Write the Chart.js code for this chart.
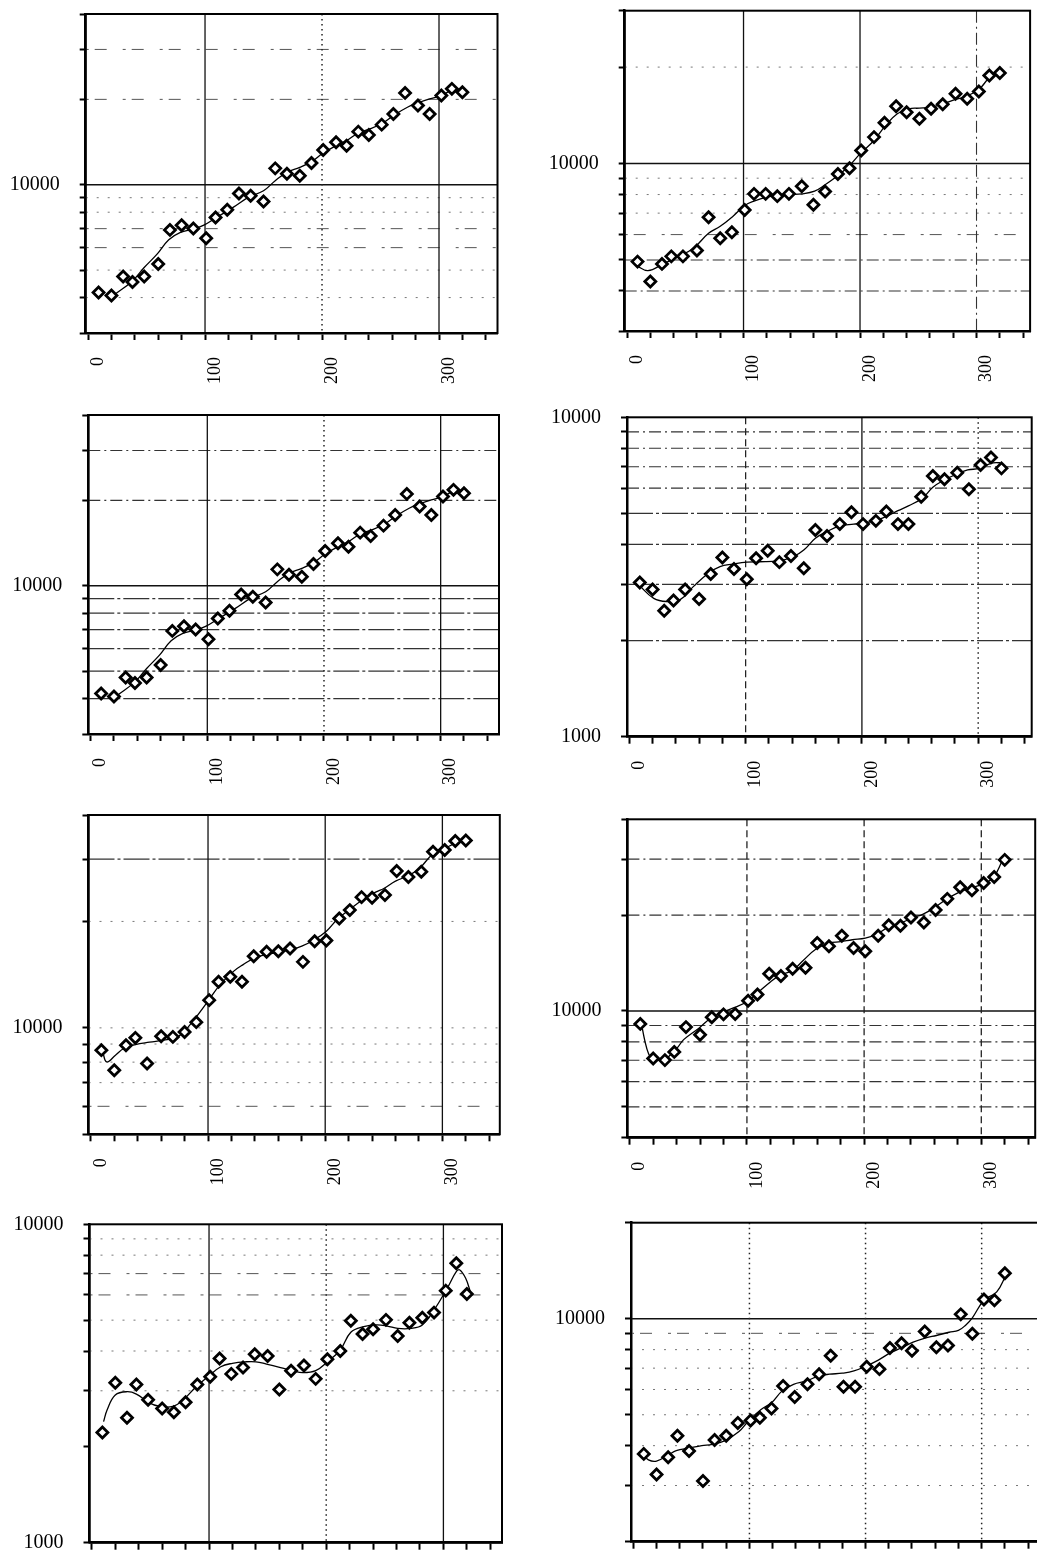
<!DOCTYPE html>
<html><head><meta charset="utf-8">
<script src="https://cdn.jsdelivr.net/npm/chart.js@4.4.1/dist/chart.umd.min.js"></script>
<style>
html,body{margin:0;padding:0;background:#fff;overflow:hidden;width:1037px;height:1555px;position:relative;}
canvas{position:absolute;}
</style></head><body>
<canvas id="cA"></canvas><canvas id="cB"></canvas><canvas id="cC"></canvas><canvas id="cD"></canvas>
<canvas id="cE"></canvas><canvas id="cF"></canvas><canvas id="cG"></canvas><canvas id="cH"></canvas>
<script>
// ---------- DATA ----------
const days = [9, 20, 30, 38, 48, 60, 70, 80, 90, 101, 109, 119, 129, 139, 150, 160, 170, 181, 191, 201, 212, 221, 231, 240, 251, 261, 271, 282, 292, 302, 311, 320];

// panel A (top left; panel C, second row left, shows the same series)
const seriesA = [4170, 4070, 4750, 4540, 4750, 5250, 6930, 7200, 7010, 6480, 7670, 8160, 9320, 9140, 8730, 11420, 10940, 10760, 11930, 13260, 14110, 13730, 15390, 14980, 16290, 17770, 21080, 19020, 17770, 20630, 21780, 21200];
const fitDaysA = [23, 38, 48, 59, 69, 79, 90, 99, 110, 124, 137, 150, 160, 170, 181, 191, 201, 212, 221, 231, 241, 252, 261, 273, 282, 292, 302, 311];
const fitA = [4110, 4580, 5105, 5690, 6395, 6790, 6975, 7200, 7670, 8320, 9020, 9520, 10330, 11060, 11510, 12060, 12940, 13730, 14300, 15220, 15730, 16510, 17530, 18760, 19440, 20080, 20630, 21670];

// panel B (top right)
const seriesB = [4940, 4280, 4860, 5130, 5130, 5350, 6800, 5840, 6100, 7160, 8040, 8040, 7910, 8040, 8490, 7440, 8180, 9280, 9670, 10980, 12090, 13400, 15100, 14460, 13790, 14820, 15320, 16510, 15920, 16790, 18840, 19160];
const fitDaysB = [8, 18, 31, 43, 57, 70, 80, 91, 101, 109, 120, 129, 140, 150, 161, 170, 181, 191, 200, 212, 222, 232, 242, 251, 261, 271, 282, 291, 302, 310, 315];
const fitB = [4800, 4630, 4860, 5100, 5440, 6060, 6370, 6850, 7390, 7630, 7850, 7940, 8000, 8040, 8200, 8580, 9170, 9860, 10720, 11800, 13150, 14300, 14820, 14890, 15000, 15360, 15850, 16200, 17030, 18390, 19060];

// panel D (second row right)
const seriesD = [3040, 2890, 2480, 2670, 2890, 2700, 3230, 3640, 3350, 3110, 3620, 3820, 3520, 3680, 3370, 4440, 4250, 4630, 5040, 4630, 4740, 5070, 4630, 4630, 5640, 6550, 6400, 6710, 5950, 7090, 7490, 6920];
const fitDaysD = [8, 21, 32, 44, 55, 68, 78, 89, 101, 112, 128, 141, 150, 160, 170, 181, 193, 200, 212, 222, 231, 240, 252, 261, 271, 282, 291, 301, 311, 319];
const fitD = [2990, 2710, 2650, 2690, 2950, 3250, 3410, 3470, 3520, 3530, 3550, 3660, 3840, 4180, 4390, 4570, 4630, 4660, 4750, 4910, 5100, 5280, 5580, 6040, 6370, 6650, 6840, 6920, 7180, 7210];

// panel E (third row left)
const seriesE = [8650, 7590, 8930, 9370, 7930, 9470, 9430, 9740, 10380, 11980, 13500, 13940, 13500, 15950, 16410, 16480, 16770, 15370, 17590, 17670, 20390, 21530, 23430, 23330, 23740, 27760, 26700, 27640, 31480, 31840, 33760, 33890];
const fitDaysE = [10, 13.5, 21, 28, 38, 50, 62, 72, 78, 89, 100, 110, 122, 130, 140, 150, 160, 171, 180, 190, 201, 211, 221, 231, 243, 250, 260, 272, 281, 291, 302, 314, 321];
const fitE = [8590, 8010, 8370, 8740, 8970, 9110, 9230, 9370, 9640, 10630, 11900, 13210, 14470, 15100, 15780, 16130, 16370, 16660, 17030, 17700, 18770, 20390, 21620, 22930, 24210, 24790, 26000, 27040, 28370, 30810, 32180, 33610, 34120];

// panel F (third row right)
const seriesF = [9110, 7090, 7010, 7440, 8900, 8420, 9560, 9760, 9790, 10770, 11270, 13100, 12880, 13570, 13670, 16350, 15970, 17230, 15780, 15400, 17230, 18590, 18510, 19650, 18960, 20750, 22500, 24460, 23950, 25240, 26350, 29830];
const fitDaysF = [10, 13, 16, 19, 29, 40, 46, 59, 69, 79, 89, 100, 110, 120, 128, 139, 148, 159, 170, 180, 190, 201, 211, 221, 232, 242, 250, 260, 270, 280, 291, 300, 310, 318];
const fitF = [9110, 8030, 7350, 7090, 7040, 7620, 8130, 8830, 9490, 9910, 10240, 10690, 11480, 12340, 12940, 13410, 14410, 15660, 16350, 16510, 16740, 16940, 17440, 18370, 18960, 19650, 20120, 21110, 22400, 23500, 24350, 24940, 26160, 29690];

// panel G (bottom left)
const seriesG = [2220, 3180, 2470, 3140, 2810, 2640, 2570, 2760, 3140, 3320, 3790, 3390, 3550, 3910, 3860, 3030, 3470, 3600, 3270, 3770, 4000, 4980, 4520, 4680, 5010, 4460, 4910, 5090, 5280, 6190, 7540, 6040];
const fitDaysG = [10, 13, 20, 30, 38, 49, 58, 69, 78, 89, 99, 110, 120, 131, 140, 149, 161, 171, 180, 191, 201, 212, 221, 232, 243, 252, 261, 272, 282, 292, 304, 311, 314, 319, 323];
const fitG = [2400, 2610, 2910, 2980, 2930, 2750, 2680, 2680, 2810, 3090, 3320, 3570, 3660, 3700, 3700, 3640, 3550, 3470, 3420, 3470, 3700, 4030, 4580, 4770, 4830, 4790, 4710, 4710, 4830, 5380, 6370, 7100, 7190, 6770, 6140];

// panel H (bottom right)
const seriesH = [3770, 3250, 3680, 4300, 3850, 3100, 4170, 4300, 4710, 4800, 4890, 5230, 6150, 5680, 6230, 6700, 7660, 6120, 6120, 7070, 6950, 8100, 8380, 7940, 9120, 8140, 8240, 10320, 8970, 11490, 11430, 13880];
const fitDaysH = [9, 13, 20, 30, 37, 48, 59, 68, 79, 91, 99, 110, 119, 128, 138, 149, 160, 169, 180, 190, 201, 211, 222, 232, 241, 252, 261, 272, 280, 286, 292, 302, 313, 321];
const fitH = [3740, 3610, 3580, 3740, 3860, 3930, 4000, 4040, 4150, 4430, 4770, 5190, 5450, 5930, 6230, 6380, 6620, 6700, 6750, 6860, 7120, 7420, 7840, 8140, 8440, 8710, 8860, 9070, 9190, 9530, 10070, 11430, 12140, 13710];

// tick values / labels
const xTickValues = [0, 20, 40, 60, 80, 100, 120, 140, 160, 180, 200, 220, 240, 260, 280, 300, 320, 340];
const xTickLabels = [0, 100, 200, 300];
const yTicks3k40k = [3000, 4000, 5000, 6000, 7000, 8000, 9000, 10000, 20000, 30000, 40000];
const yTicks3k30k = [3000, 4000, 5000, 6000, 7000, 8000, 9000, 10000, 20000, 30000];
const yTicks1k10k = [1000, 2000, 3000, 4000, 5000, 6000, 7000, 8000, 9000, 10000];
const yTicks5k40k = [5000, 6000, 7000, 8000, 9000, 10000, 20000, 30000, 40000];
const yTicks4k40k = [4000, 5000, 6000, 7000, 8000, 9000, 10000, 20000, 30000, 40000];
const yTicks2k20k = [2000, 3000, 4000, 5000, 6000, 7000, 8000, 9000, 10000, 20000];

// ---------- STYLES / LAYOUT ----------
const LINE_STYLES = {
  solid:   {dash: [], color: '#111', width: 1.3},
  dot:     {dash: [1.5, 3.5], color: '#222', width: 1.5},
  dash:    {dash: [7, 4], color: '#222', width: 1.3},
  dashdot: {dash: [12, 4, 2, 4], color: '#333', width: 1.1},
  dense:   {dash: [26, 3, 3, 3], color: '#333', width: 1.2},
  sparse:  {dash: [3, 6, 12, 16], color: '#555', width: 1},
  faint:   {dash: [2, 9], color: '#777', width: 1}
};

const panels = [
  {id: 'cA', cx: 0, cy: 0, w: 520, h: 400, left: 85.7, top: 14, right: 497.5, bottom: 333, xMax: 350,
   yMin: 3000, yMax: 40000, yTicks: yTicks3k40k, yLabels: [10000], showX: true,
   obs: seriesA, fx: fitDaysA, fy: fitA,
   hg: [[30000,'sparse'],[20000,'sparse'],[10000,'solid'],[9000,'faint'],[8000,'faint'],[7000,'sparse'],[6000,'sparse'],[5000,'faint'],[4000,'faint']],
   vg: [[100,'solid'],[200,'dot'],[300,'solid']]},
  {id: 'cB', cx: 520, cy: 0, w: 540, h: 400, left: 104.7, top: 10.7, right: 510.1, bottom: 331, xMax: 346,
   yMin: 3000, yMax: 30000, yTicks: yTicks3k30k, yLabels: [10000], showX: true,
   obs: seriesB, fx: fitDaysB, fy: fitB,
   hg: [[20000,'faint'],[10000,'solid'],[9000,'faint'],[8000,'faint'],[7000,'faint'],[6000,'sparse'],[5000,'dashdot'],[4000,'dashdot']],
   vg: [[100,'solid'],[200,'solid'],[300,'dashdot']]},
  {id: 'cC', cx: 0, cy: 400, w: 520, h: 400, left: 88.3, top: 15, right: 499, bottom: 334, xMax: 350,
   yMin: 3000, yMax: 40000, yTicks: yTicks3k40k, yLabels: [10000], showX: true,
   obs: seriesA, fx: fitDaysA, fy: fitA,
   hg: [[30000,'dashdot'],[20000,'dashdot'],[10000,'solid'],[9000,'dense'],[8000,'dense'],[7000,'dense'],[6000,'dense'],[5000,'dense'],[4000,'dense']],
   vg: [[100,'solid'],[200,'dot'],[300,'solid']]},
  {id: 'cD', cx: 520, cy: 400, w: 540, h: 400, left: 107, top: 17.3, right: 511.7, bottom: 336.7, xMax: 346,
   yMin: 1000, yMax: 10000, yTicks: yTicks1k10k, yLabels: [1000, 10000], showX: true,
   obs: seriesD, fx: fitDaysD, fy: fitD,
   hg: [[9000,'dashdot'],[8000,'dashdot'],[7000,'dashdot'],[6000,'dashdot'],[5000,'dense'],[4000,'dense'],[3000,'dense'],[2000,'dense']],
   vg: [[100,'dash'],[200,'solid'],[300,'dot']]},
  {id: 'cE', cx: 0, cy: 800, w: 520, h: 400, left: 88.5, top: 15, right: 499.8, bottom: 334.3, xMax: 349,
   yMin: 5000, yMax: 40000, yTicks: yTicks5k40k, yLabels: [10000], showX: true,
   obs: seriesE, fx: fitDaysE, fy: fitE,
   hg: [[30000,'dense'],[20000,'faint'],[10000,'faint'],[9000,'faint'],[8000,'faint'],[7000,'faint'],[6000,'sparse']],
   vg: [[100,'solid'],[200,'solid'],[300,'solid']]},
  {id: 'cF', cx: 520, cy: 800, w: 540, h: 400, left: 107.4, top: 19.3, right: 515.2, bottom: 337.7, xMax: 346,
   yMin: 4000, yMax: 40000, yTicks: yTicks4k40k, yLabels: [10000], showX: true,
   obs: seriesF, fx: fitDaysF, fy: fitF,
   hg: [[30000,'dashdot'],[20000,'dashdot'],[10000,'solid'],[9000,'dashdot'],[8000,'dashdot'],[7000,'dashdot'],[6000,'dashdot'],[5000,'dashdot']],
   vg: [[100,'dash'],[200,'dash'],[300,'dash']]},
  {id: 'cG', cx: 0, cy: 1200, w: 520, h: 355, left: 89.5, top: 24.3, right: 502, bottom: 342.7, xMax: 350,
   yMin: 1000, yMax: 10000, yTicks: yTicks1k10k, yLabels: [1000, 10000], showX: false,
   obs: seriesG, fx: fitDaysG, fy: fitG,
   hg: [[9000,'faint'],[8000,'faint'],[7000,'sparse'],[6000,'sparse'],[5000,'faint'],[4000,'faint'],[3000,'faint']],
   vg: [[100,'solid'],[200,'dot'],[300,'solid']]},
  {id: 'cH', cx: 520, cy: 1200, w: 540, h: 355, left: 111, top: 22.7, right: 519.7, bottom: 341.7, xMax: 350,
   yMin: 2000, yMax: 20000, yTicks: yTicks2k20k, yLabels: [10000], showX: false,
   obs: seriesH, fx: fitDaysH, fy: fitH,
   hg: [[10000,'solid'],[9000,'sparse'],[8000,'faint'],[7000,'faint'],[6000,'faint'],[5000,'faint'],[4000,'faint'],[3000,'faint']],
   vg: [[100,'dot'],[200,'dot'],[300,'dot']]}
];

function makeGridPlugin(p) {
  return {
    id: 'paperGrid',
    beforeDatasetsDraw(chart) {
      const {ctx, chartArea: a, scales} = chart;
      ctx.save();
      ctx.beginPath();
      ctx.rect(a.left, a.top, a.right - a.left, a.bottom - a.top);
      ctx.clip();
      const stroke = (x1, y1, x2, y2, s) => {
        const st = LINE_STYLES[s];
        ctx.beginPath();
        ctx.setLineDash(st.dash);
        ctx.strokeStyle = st.color;
        ctx.lineWidth = st.width;
        ctx.moveTo(x1, y1); ctx.lineTo(x2, y2);
        ctx.stroke();
      };
      p.hg.forEach(([v, s]) => { const py = scales.y.getPixelForValue(v); stroke(a.left, py, a.right, py, s); });
      p.vg.forEach(([v, s]) => { const px = scales.x.getPixelForValue(v); stroke(px, a.top, px, a.bottom, s); });
      ctx.restore();
    },
    afterDraw(chart) {
      const {ctx, chartArea: a} = chart;
      ctx.save();
      ctx.setLineDash([]);
      ctx.strokeStyle = '#000';
      ctx.lineWidth = 2;
      ctx.strokeRect(a.left, a.top, a.right - a.left, a.bottom - a.top);
      ctx.restore();
    }
  };
}

panels.forEach(p => {
  const cv = document.getElementById(p.id);
  cv.width = p.w; cv.height = p.h;
  cv.style.left = p.cx + 'px'; cv.style.top = p.cy + 'px';
  cv.style.width = p.w + 'px'; cv.style.height = p.h + 'px';
  new Chart(cv, {
    type: 'scatter',
    data: {
      datasets: [
        {
          data: days.map((d, i) => ({x: d, y: p.obs[i]})),
          showLine: false,
          pointStyle: 'rectRot', pointRadius: 5.5,
          pointBorderColor: '#000', pointBackgroundColor: '#fff', pointBorderWidth: 2.8,
          borderColor: '#000', backgroundColor: '#fff'
        },
        {
          data: p.fx.map((d, i) => ({x: d, y: p.fy[i]})),
          showLine: true, pointRadius: 0, borderColor: '#000', borderWidth: 1.3,
          tension: 0.4, fill: false
        }
      ]
    },
    options: {
      responsive: false, maintainAspectRatio: false, animation: false, devicePixelRatio: 1,
      events: [],
      layout: {autoPadding: false, padding: {left: 0, top: p.top, right: p.w - p.right, bottom: 0}},
      plugins: {legend: {display: false}, tooltip: {enabled: false}},
      scales: {
        x: {
          type: 'linear', min: -2, max: p.xMax,
          afterBuildTicks: ax => { ax.ticks = xTickValues.map(v => ({value: v})); },
          afterFit: ax => { ax.height = p.h - p.bottom; ax.paddingLeft = 0; ax.paddingRight = 0; ax.paddingTop = 0; ax.paddingBottom = 0; },
          ticks: {
            autoSkip: false, maxRotation: 90, minRotation: 90, padding: 17, labelOffset: 10,
            color: '#000', font: {family: 'Liberation Serif', size: 18},
            callback: v => (p.showX && xTickLabels.includes(v)) ? String(v) : ''
          },
          grid: {drawOnChartArea: false, drawTicks: true, tickLength: 7, tickWidth: 2, tickColor: '#000'},
          border: {display: true, color: '#000', width: 2.5}
        },
        y: {
          type: 'logarithmic', min: p.yMin, max: p.yMax,
          afterBuildTicks: ax => { ax.ticks = p.yTicks.map(v => ({value: v})); },
          afterFit: ax => { ax.width = p.left; ax.paddingTop = 0; ax.paddingBottom = 0; ax.paddingLeft = 0; ax.paddingRight = 0; },
          ticks: {
            autoSkip: false, padding: 20, color: '#000',
            font: {family: 'Liberation Serif', size: 20},
            callback: v => p.yLabels.includes(v) ? String(v) : ''
          },
          grid: {drawOnChartArea: false, drawTicks: true, tickLength: 6, tickWidth: 2, tickColor: '#000'},
          border: {display: true, color: '#000', width: 2.5}
        }
      }
    },
    plugins: [makeGridPlugin(p)]
  });
});
</script>
</body></html>
